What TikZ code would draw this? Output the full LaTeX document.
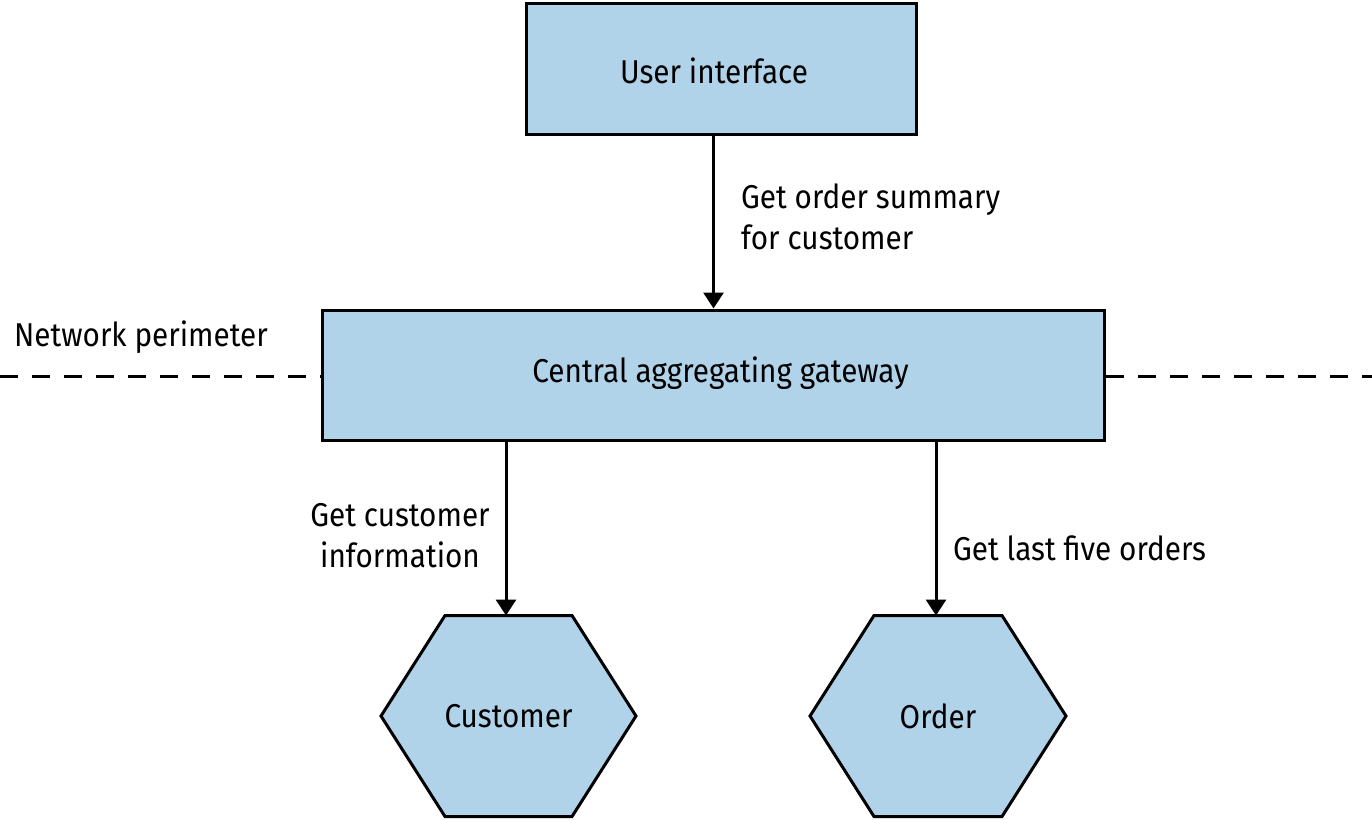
\documentclass[tikz,border=0pt]{standalone}
\usepackage{fontspec}
\setmainfont{Fira Sans}[FakeStretch=0.9]
\usetikzlibrary{arrows.meta}
\definecolor{boxblue}{RGB}{177,211,233}
\tikzset{
  box/.style={draw=black, line width=3pt, fill=boxblue, inner sep=0pt},
  arr/.style={draw=black, line width=3pt, -{Triangle[length=16pt,width=20pt]}},
  lbl/.style={inner sep=0pt, font=\fontsize{33}{41}\selectfont},
  perim/.style={draw=black, line width=3pt, dash pattern=on 18pt off 14pt},
}
\begin{document}
\begin{tikzpicture}[x=1pt,y=-1pt]
\useasboundingbox (0,0) rectangle (1372,819);
% boxes
\node[box, minimum width=390pt, minimum height=131pt] (ui) at (721.5,68.5) {};
\node[lbl] (uit) at (714,71) {User interface};
\node[box, minimum width=782pt, minimum height=130pt] (gw) at (713.5,375) {};
\node[lbl] (gwt) at (720.5,373) {Central aggregating gateway};
% hexagons
\path[box] (381,716) -- (445,615.5) -- (572,615.5) -- (636,716) -- (572,816.5) -- (445,816.5) -- cycle;
\node[lbl] (cust) at (508.5,716) {Customer};
\coordinate (custtop) at (506,615.5);
\path[box] (810,716) -- (874,615.5) -- (1002,615.5) -- (1066,716) -- (1002,816.5) -- (874,816.5) -- cycle;
\node[lbl] (ord) at (938,716) {Order};
\coordinate (ordtop) at (936,615.5);
% perimeter
\coordinate (pl) at (0,376);
\coordinate (pr) at (1372,376);
\draw[perim] (pl) -- (gw.west |- pl);
\draw[perim] (gw.east |- pr) -- (pr);
\node[lbl] (np) at (141,337) {Network perimeter};
% arrows
\draw[arr] (gw.north |- ui.south) -- (gw.north);
\draw[arr] (gw.south -| custtop) -- (custtop);
\draw[arr] (gw.south -| ordtop) -- (ordtop);
% labels
\node[lbl, anchor=west, align=left] (l1) at (741,217) {Get order summary\\for customer};
\node[lbl, align=center] (l2) at (400,536) {Get customer\\information};
\node[lbl, anchor=west] (l3) at (953,548) {Get last five orders};
\end{tikzpicture}
\end{document}
